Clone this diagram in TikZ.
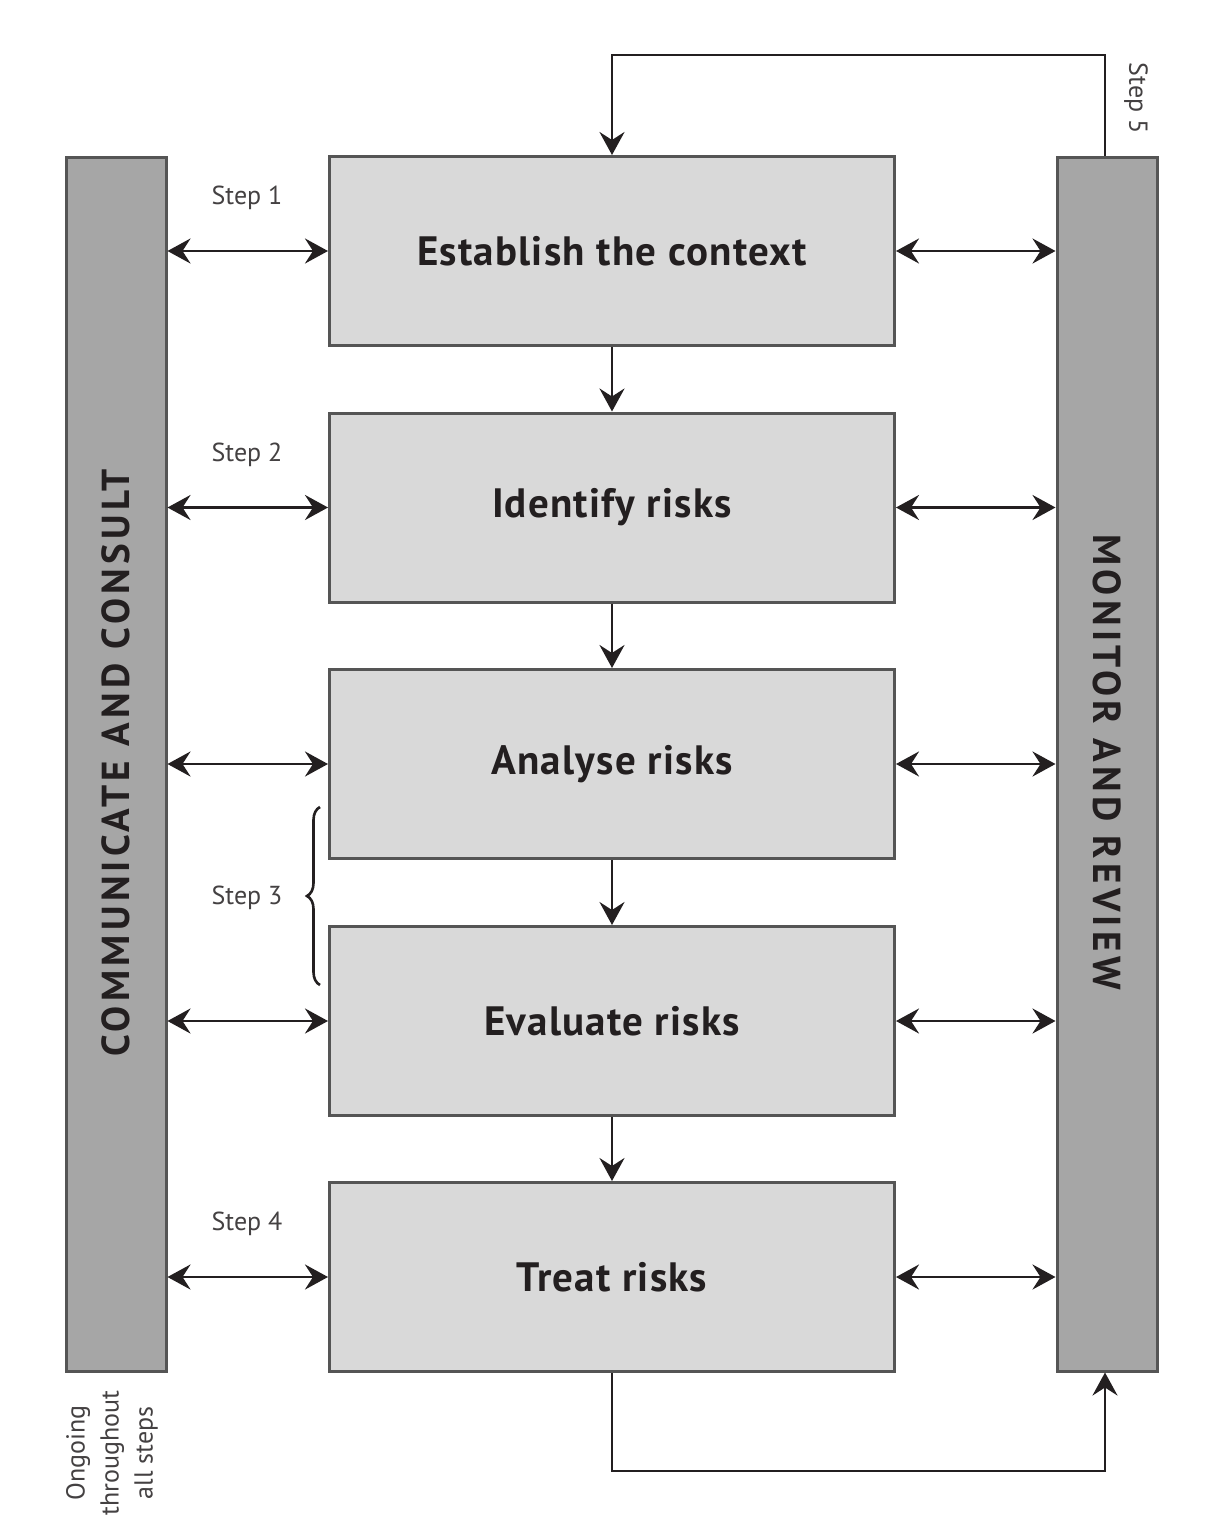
\documentclass[tikz,border=0pt]{standalone}
\usepackage{fontspec}
\setmainfont{PT Sans}
\usetikzlibrary{arrows.meta,decorations.pathreplacing}
\definecolor{boxfill}{HTML}{D9D9D9}
\definecolor{barfill}{HTML}{A6A6A6}
\definecolor{edge}{HTML}{555555}
\definecolor{ink}{HTML}{231F20}
\newfontfamily\boxfont[LetterSpace=3]{PT Sans}
\newfontfamily\barfont[LetterSpace=11]{PT Sans}
\tikzset{
  tip/.tip={Stealth[length=23pt,width=25pt,inset=8pt]},
  stepbox/.style={draw=edge, line width=3pt, fill=boxfill, minimum width=565pt, minimum height=189pt, inner sep=0pt,
    font=\boxfont\fontsize{41}{48}\selectfont\bfseries, text=ink},
  sidebar/.style={draw=edge, line width=3pt, fill=barfill, minimum width=100pt, minimum height=1214pt, inner sep=0pt},
  barlabel/.style={font=\barfont\fontsize{39}{46}\selectfont\bfseries, text=ink},
  conn/.style={draw=ink, line width=2.8pt, -tip},
  biconn/.style={draw=ink, line width=2.8pt, tip-tip},
  steplabel/.style={font=\fontsize{26}{31}\selectfont, text=ink!85},
}
\begin{document}
\begin{tikzpicture}[x=1pt,y=-1pt]
\useasboundingbox (0,0) rectangle (1217,1521);
\fill[white] (0,0) rectangle (1217,1521);
% side bars
\node[sidebar] (cc) at (116,764) {};
\node[sidebar] (mr) at (1107,764) {};
\node[barlabel, rotate=90] (cclab) at (116,763) {COMMUNICATE AND CONSULT};
\node[barlabel, rotate=-90] (mrlab) at (1107,762) {MONITOR AND REVIEW};
% step boxes
\node[stepbox] (b1) at (612,251) {Establish the context};
\node[stepbox] (b2) at (612,507.5) {Identify risks};
\node[stepbox] (b3) at (612,764) {Analyse risks};
\node[stepbox] (b4) at (612,1021) {Evaluate risks};
\node[stepbox] (b5) at (612,1277) {Treat risks};
% vertical arrows
\foreach \a/\b in {b1/b2,b2/b3,b3/b4,b4/b5}
  \draw[conn] (\a.south) -- (\b.north);
% horizontal double arrows
\foreach \b in {b1,b2,b3,b4,b5} {
  \draw[biconn] (\b.west) -- (\b.west -| cc.east);
  \draw[biconn] (\b.east) -- (\b.east -| mr.west);
}
% top loop
\coordinate (tr) at (1105,55);
\coordinate (tl) at (612,55);
\draw[conn] (mr.north -| tr) -- (tr) -- (tl) -- (b1.north);
% bottom loop
\coordinate (bl) at (612,1471);
\coordinate (br) at (1105,1471);
\draw[conn] (b5.south) -- (bl) -- (br) -- (mr.south -| br);
% step labels
\node[steplabel] (s1) at (247,198) {Step 1};
\node[steplabel] (s2) at (247,455) {Step 2};
\node[steplabel] (s3) at (247,898) {Step 3};
\node[steplabel] (s4) at (247,1224) {Step 4};
\node[steplabel, rotate=-90] (s5) at (1136,98) {Step 5};
% brace
\coordinate (brtop) at (320,807);
\coordinate (brbot) at (320,985);
\draw[ink, line width=2.6pt, decorate, decoration={brace, amplitude=13pt}] (brbot) -- (brtop);
% ongoing note
\node[steplabel, rotate=90, align=center, font=\fontsize{26}{34}\selectfont] (ongo) at (112,1453) {Ongoing\\throughout\\all steps};
\end{tikzpicture}
\end{document}
